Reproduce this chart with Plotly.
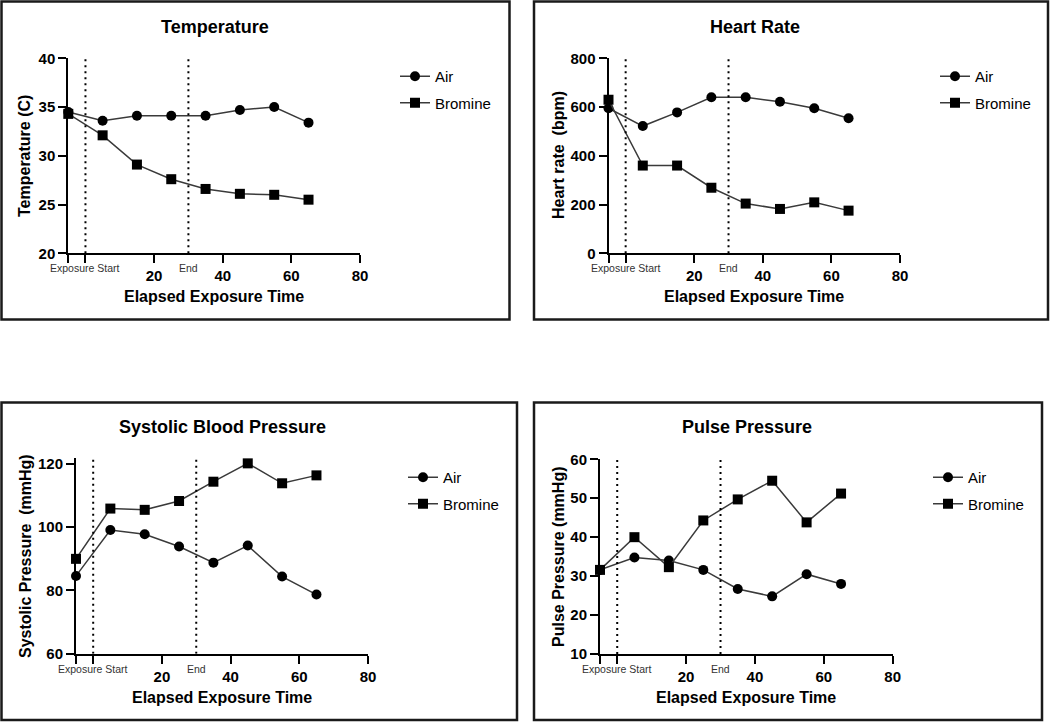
import plotly.graph_objects as go

W, H = 1050, 722

# ---------------- data ----------------
time = [-5, 5, 15, 25, 35, 45, 55, 65]
series_names = ["Air", "Bromine"]

temp_air = [34.5, 33.6, 34.1, 34.1, 34.1, 34.7, 35.0, 33.4]
temp_br = [34.3, 32.1, 29.1, 27.6, 26.6, 26.1, 26.0, 25.5]

hr_air = [595, 522, 578, 640, 640, 622, 595, 554]
hr_br = [630, 360, 360, 269, 204, 182, 209, 175]

sbp_air = [84.6, 99.1, 97.8, 93.9, 88.8, 94.2, 84.4, 78.7]
sbp_br = [90.0, 105.9, 105.5, 108.3, 114.4, 120.2, 113.9, 116.4]

pp_air = [31.6, 34.8, 34.0, 31.6, 26.7, 24.8, 30.5, 28.0]
pp_br = [31.6, 40.0, 32.3, 44.3, 49.7, 54.5, 43.8, 51.2]

titles = ["Temperature", "Heart Rate", "Systolic Blood Pressure", "Pulse Pressure"]
y_titles = ["Temperature (C)", "Heart rate  (bpm)", "Systolic Pressure  (mmHg)", "Pulse Pressure (mmHg)"]
x_title = "Elapsed Exposure Time"
x_tickvals = [-5, 0, 20, 40, 60, 80]
x_ticktext = ["", "", "<b>20</b>", "<b>40</b>", "<b>60</b>", "<b>80</b>"]
exposure_start = 0
exposure_end = 30
marker_labels = ["Exposure Start", "End"]

y_tickvals = [[20, 25, 30, 35, 40], [0, 200, 400, 600, 800], [60, 80, 100, 120], [10, 20, 30, 40, 50, 60]]
y_ranges = [[20, 40], [0, 800], [60, 121.8], [10, 60]]
x_range = [-5, 80]

panels = [(temp_air, temp_br), (hr_air, hr_br), (sbp_air, sbp_br), (pp_air, pp_br)]

# ---------------- layout (pixels) ----------------
FONT = "Liberation Sans, Arial, sans-serif"
areas = [
    (68.3, 360.0, 58.3, 253.3),
    (608.5, 900.0, 58.3, 253.3),
    (76.0, 368.0, 458.3, 653.7),
    (600.0, 892.7, 459.3, 654.0),
]
boxes = [
    (1.5, 1.5, 509.5, 319.5),
    (534.0, 1.5, 1048.0, 319.5),
    (1.5, 402.5, 517.0, 720.0),
    (534.0, 402.5, 1042.0, 720.0),
]
title_pos = [(215, 27), (755, 27), (222, 427), (747, 427)]
xtitle_pos = [(214, 296), (754, 296), (222, 697), (746, 697)]
ytitle_pos = [(25, 156), (558, 155), (25, 556), (558, 557)]
label_y = [268, 268, 669, 669]
legend_pos = [(395, 60), (935, 60), (403, 461), (928, 461)]


def px(x):
    return x / W


def py(y):
    return 1 - y / H


fig = go.Figure()
annotations = []
shapes = []

for i, (air, br) in enumerate(panels):
    n = "" if i == 0 else str(i + 1)
    xa, ya = "x" + n, "y" + n
    leg = "legend" + n
    for name, vals, sym in [(series_names[0], air, "circle"), (series_names[1], br, "square")]:
        fig.add_trace(go.Scatter(
            x=time, y=vals, name=name, mode="lines+markers",
            xaxis=xa, yaxis=ya, legend=leg, legendgroup=name + n,
            line=dict(color="#3a3a3a", width=1.5),
            marker=dict(symbol=sym, size=10, color="black"),
            cliponaxis=False,
        ))
    x0, x1, yt, yb = areas[i]
    axis_common = dict(showline=True, linewidth=2, linecolor="black", ticks="outside",
                       ticklen=8, tickwidth=2, tickcolor="black", showgrid=False, zeroline=False,
                       automargin=False,
                       tickfont=dict(family=FONT, size=15, color="black", weight="bold"))
    fig.update_layout(**{
        "xaxis" + n: dict(domain=[px(x0), px(x1)], anchor=ya, range=x_range,
                          tickvals=x_tickvals, ticktext=x_ticktext, **axis_common),
        "yaxis" + n: dict(domain=[py(yb), py(yt)], anchor=xa, range=y_ranges[i],
                          tickvals=y_tickvals[i], tickprefix="<b>", ticksuffix="</b>", **axis_common),
        leg: dict(x=px(legend_pos[i][0]), y=py(legend_pos[i][1]), xanchor="left", yanchor="top",
                  font=dict(family=FONT, size=15, color="black"), bgcolor="rgba(0,0,0,0)",
                  tracegroupgap=4, traceorder="grouped"),
    })
    for xv in (exposure_start, exposure_end):
        shapes.append(dict(type="line", xref=xa, yref=ya, x0=xv, x1=xv,
                           y0=y_ranges[i][0], y1=y_ranges[i][1],
                           line=dict(color="black", width=2, dash="2px,4px")))
    bx0, by0, bx1, by1 = boxes[i]
    shapes.append(dict(type="rect", xref="paper", yref="paper", x0=px(bx0), x1=px(bx1),
                       y0=py(by1), y1=py(by0), line=dict(color="#1a1a1a", width=2.5)))
    annotations.append(dict(text="<b>" + titles[i] + "</b>", x=px(title_pos[i][0]), y=py(title_pos[i][1]),
                            xref="paper", yref="paper", showarrow=False, xanchor="center", yanchor="middle",
                            font=dict(family=FONT, size=18, color="black")))
    annotations.append(dict(text="<b>" + x_title + "</b>", x=px(xtitle_pos[i][0]), y=py(xtitle_pos[i][1]),
                            xref="paper", yref="paper", showarrow=False, xanchor="center", yanchor="middle",
                            font=dict(family=FONT, size=16, color="black")))
    annotations.append(dict(text="<b>" + y_titles[i] + "</b>", x=px(ytitle_pos[i][0]), y=py(ytitle_pos[i][1]),
                            xref="paper", yref="paper", showarrow=False, xanchor="center", yanchor="middle",
                            textangle=-90,
                            font=dict(family=FONT, size=16, color="black")))
    for xv, lab in zip((exposure_start, exposure_end), marker_labels):
        annotations.append(dict(text=lab, x=xv, xref=xa, y=py(label_y[i]), yref="paper",
                                showarrow=False, xanchor="center", yanchor="middle",
                                font=dict(family=FONT, size=10.5, color="#333333")))

fig.update_layout(
    template="none",
    width=W, height=H, margin=dict(l=0, r=0, t=0, b=0, pad=0, autoexpand=False),
    paper_bgcolor="white", plot_bgcolor="white",
    showlegend=True, annotations=annotations, shapes=shapes,
    font=dict(family=FONT, color="black"),
)

fig.write_html("out.html", config={"displayModeBar": False},
               post_script="document.body.style.margin='0';document.body.style.overflow='hidden';")
